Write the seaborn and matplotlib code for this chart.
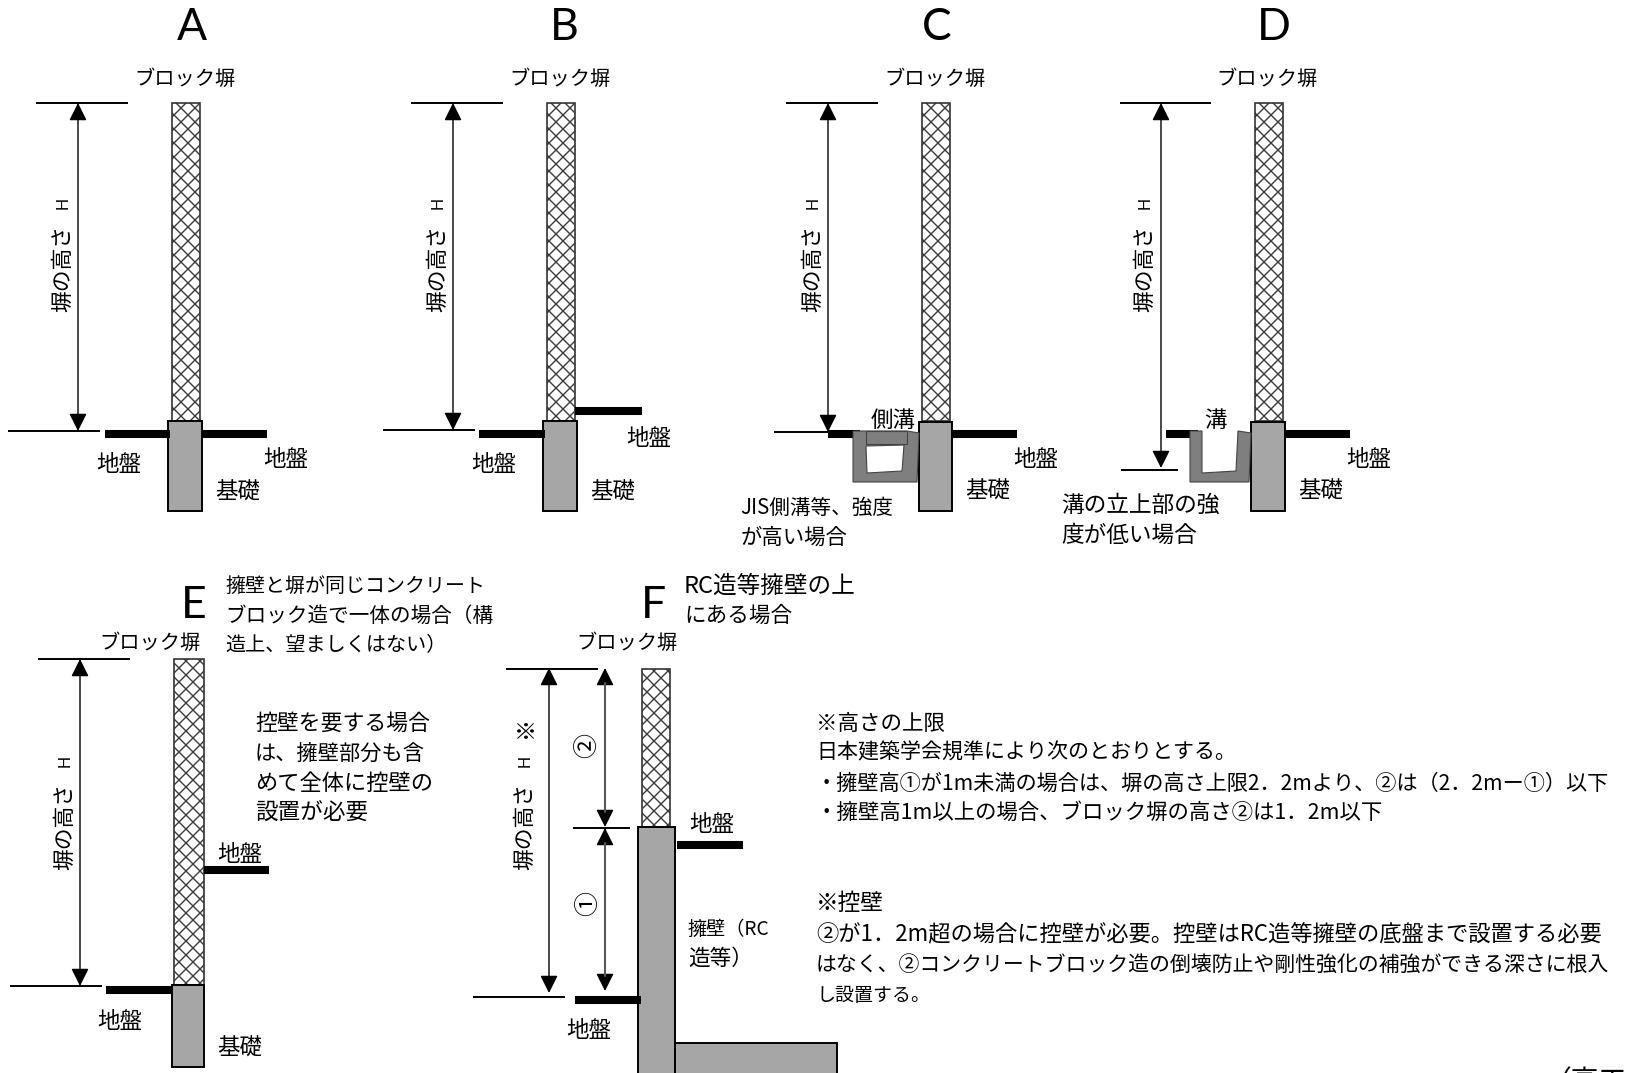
import pandas as pd
import matplotlib
matplotlib.use("Agg")
import matplotlib.pyplot as plt
from matplotlib.patches import Rectangle, Polygon, FancyArrowPatch
import seaborn as sns

# labels
panel_names = ["A", "B", "C", "D", "E", "F"]
block_wall = "ブロック塀"
ground = "地盤"
footing = "基礎"
height_label = "塀の高さ"

# hatched block walls: x0, x1, top, bottom
block_walls = [(172, 200, 103, 421), (547, 575, 103, 421), (922, 950, 103, 421),
               (1255, 1283, 103, 421), (174, 204, 659, 985), (642, 670, 669, 827)]
# grey footings and retaining wall
footings = [(168, 202, 421, 511), (543, 577, 421, 511), (919, 952, 422, 511),
            (1251, 1285, 422, 511), (172, 204, 985, 1067), (638, 675, 827, 1080),
            (675, 837, 1043, 1080)]
# thick ground lines: x0, x1, y
ground_lines = [(105, 170, 434), (202, 267, 434), (479, 545, 434), (575, 642, 411),
                (828, 860, 434), (952, 1017, 434), (1166, 1198, 434), (1285, 1350, 434),
                (106, 172, 990), (204, 269, 870), (575, 641, 1000), (677, 743, 845)]
# thin datum lines
datum_lines = [(36, 128, 103), (8, 100, 431), (411, 503, 103), (383, 475, 430),
               (786, 878, 103), (774, 828, 432), (1120, 1211, 103), (1121, 1178, 470),
               (38, 130, 659), (10, 102, 986), (506, 598, 669), (573, 630, 828),
               (473, 565, 997)]
# dimension arrows: x, top, bottom
dim_arrows = [(78, 103, 431), (453, 103, 430), (828, 103, 432), (1161, 103, 468),
              (80, 659, 986), (549, 668, 993)]
part_arrows = [(605, 668, 827), (605, 828, 991)]

# drainage channels
channel_c = [(853, 431), (907, 431), (919, 433), (917, 482), (853, 482)]
channel_c_hole = [(866, 446), (904, 445), (902, 471), (867, 473)]
channel_c_lid = (866, 907, 431, 444)
channel_d = [(1190, 431), (1202, 431), (1202, 473), (1236, 471), (1238, 431),
             (1251, 433), (1249, 482), (1190, 482)]

# text lines: string, left x, centre y, right x
notes = [
    ("JIS側溝等、強度", 740, 507, 893),
    ("が高い場合", 741, 537, 848),
    ("溝の立上部の強", 1061, 505, 1220),
    ("度が低い場合", 1061, 535, 1197),
    ("擁壁と塀が同じコンクリート", 225, 586, 485),
    ("ブロック造で一体の場合（構", 225, 615, 493),
    ("造上、望ましくはない）", 225, 645, 447),
    ("控壁を要する場合", 255, 723, 430),
    ("は、擁壁部分も含", 255, 753, 425),
    ("めて全体に控壁の", 255, 783, 433),
    ("設置が必要", 255, 813, 368),
    ("RC造等擁壁の上", 684, 586, 856),
    ("にある場合", 684, 615, 792),
    ("擁壁（RC", 688, 929, 770),
    ("造等）", 688, 958, 753),
    ("※高さの上限", 816, 723, 945),
    ("日本建築学会規準により次のとおりとする。", 816, 752, 1236),
    ("・擁壁高①が1m未満の場合は、塀の高さ上限2．2mより、②は（2．2mー①）以下", 816, 783, 1612),
    ("・擁壁高1m以上の場合、ブロック塀の高さ②は1．2m以下", 816, 812, 1385),
    ("※控壁", 816, 903, 884),
    ("②が1．2m超の場合に控壁が必要。控壁はRC造等擁壁の底盤まで設置する必要", 816, 934, 1604),
    ("はなく、②コンクリートブロック造の倒壊防止や剛性強化の補強ができる深さに根入", 816, 964, 1612),
    ("し設置する。", 816, 995, 930),
]

sns.set_theme(style="white")
plt.rcParams["font.family"] = ["Noto Sans CJK JP", "DejaVu Sans"]

fig = plt.figure(figsize=(16.27, 10.73), dpi=100)
ax = fig.add_axes([0, 0, 1, 1])
ax.set_xlim(0, 1627)
ax.set_ylim(1073, 0)

TEXT_DY = 2.5  # Noto sits a bit high with va=center


def draw_lines(segs, lw, z):
    df = pd.DataFrame([{"x": x, "y": y, "seg": i} for i, s in enumerate(segs) for x, y in ((s[0], s[2]), (s[1], s[2]))])
    sns.lineplot(data=df, x="x", y="y", units="seg", estimator=None, sort=False,
                 color="black", linewidth=lw, solid_capstyle="butt", legend=False, ax=ax, zorder=z)


def fit_text(txt, x0, y, x1, size=16):
    # shrink the line so it ends where the reference line ends
    t = ax.text(x0, y + 0.5, txt, ha="left", va="center", fontsize=size, color="black")
    w = t.get_window_extent(fig.canvas.get_renderer()).width
    t.set_fontsize(size * min((x1 - x0) / w, 1.1))
    return t


def label(x, y, txt, size=16, **kw):
    ax.text(x, y + TEXT_DY, txt, ha="center", va="center", fontsize=size, color="black", **kw)


def cross_hatch(x0, x1, y0, y1, pitch=14):
    # hatch tile of matplotlib is too coarse for this block pattern
    box = Rectangle((x0, y0), x1 - x0, y1 - y0, facecolor="white", edgecolor="none", zorder=2)
    ax.add_patch(box)
    h = y1 - y0
    c = x0 - h
    while c < x1:
        ln1, = ax.plot([c, c + h], [y0, y1], color="#3a3a3a", lw=1.0, zorder=2.1)
        ln2, = ax.plot([c, c + h], [y1, y0], color="#3a3a3a", lw=1.0, zorder=2.1)
        ln1.set_clip_path(box)
        ln2.set_clip_path(box)
        c += pitch
    ax.add_patch(Rectangle((x0, y0), x1 - x0, y1 - y0, fill=False, edgecolor="#333333", lw=1.2, zorder=2.2))


for x0, x1, y0, y1 in block_walls:
    cross_hatch(x0, x1, y0, y1)
for x0, x1, y0, y1 in footings:
    ax.add_patch(Rectangle((x0, y0), x1 - x0, y1 - y0, facecolor="#a6a6a6", edgecolor="black", lw=1.4, zorder=3))

draw_lines(ground_lines, 5.8, 3.5)
draw_lines(datum_lines, 1.4, 3.5)

ax.add_patch(Polygon(channel_c, closed=True, facecolor="#7f7f7f", edgecolor="#444444", lw=0.8, zorder=4))
ax.add_patch(Polygon(channel_c_hole, closed=True, facecolor="white", edgecolor="#444444", lw=0.8, zorder=5))
x0, x1, y0, y1 = channel_c_lid
ax.add_patch(Rectangle((x0, y0), x1 - x0, y1 - y0, facecolor="#7f7f7f", edgecolor="#444444", lw=0.8, zorder=5))
ax.add_patch(Polygon(channel_d, closed=True, facecolor="#7f7f7f", edgecolor="#444444", lw=0.8, zorder=4))

style = "<|-|>,head_length=1.08,head_width=0.54"
for x, y0, y1 in dim_arrows:
    ax.add_patch(FancyArrowPatch((x, y0), (x, y1), arrowstyle=style, mutation_scale=10,
                                 shrinkA=0, shrinkB=0, color="black", lw=1.0, zorder=6))
for x, y0, y1 in part_arrows:
    ax.add_patch(FancyArrowPatch((x, y0), (x, y1), arrowstyle=style, mutation_scale=10,
                                 shrinkA=0, shrinkB=0, color="black", lw=1.0, zorder=6))
    ax.plot([x, x], [y0 + 15, y1 - 15], color="#595959", lw=1.5, zorder=7)

# panel letters
for name, x, y in zip(panel_names, [192, 564, 937, 1274, 194, 654], [28, 28, 28, 28, 605, 605]):
    ax.text(x, y, name, ha="center", va="center", fontsize=32, family="Lato", color="black")

for x, y in zip([185, 560, 935, 1267, 150, 627], [77, 77, 77, 77, 641, 641]):
    label(x, y, block_wall, size=14.6)

for x, y in zip([119, 286, 494, 649, 1036, 1369, 120, 240, 589, 712], [462, 457, 462, 436, 457, 457, 1019, 852, 1028, 822]):
    label(x, y, ground, size=16.2)
for x, y in zip([238, 613, 988, 1321, 240], [490, 490, 489, 489, 1046]):
    label(x, y, footing, size=16.2)
label(893, 418, "側溝", size=16.2, zorder=8)
label(1215, 418, "溝", size=16.2)

# rotated height labels
for x, y, hy in [(62, 269, 203), (437, 269, 203), (812, 269, 203), (1144, 269, 203), (64, 827, 761), (524, 827, 761)]:
    ax.text(x + 1.5, y, height_label, rotation=90, ha="center", va="center", fontsize=15.7, color="black")
    ax.text(x + 1, hy, "H", rotation=90, ha="center", va="center", fontsize=12, family="Liberation Sans", color="black")
ax.text(525, 727, "※", rotation=90, ha="center", va="center", fontsize=16, color="black")
ax.text(587, 745, "②", rotation=90, ha="center", va="center", fontsize=18, color="black")
ax.text(588, 903, "①", rotation=90, ha="center", va="center", fontsize=18, color="black")

for txt, x0, y, x1 in notes:
    fit_text(txt, x0, y, x1)

# cut off by the lower edge in the reference
ax.text(1544, 1082, "（高工", ha="left", va="center", fontsize=20, color="black", clip_on=True)

ax.axis("off")
fig.savefig("out.png", dpi=100, facecolor="white")
